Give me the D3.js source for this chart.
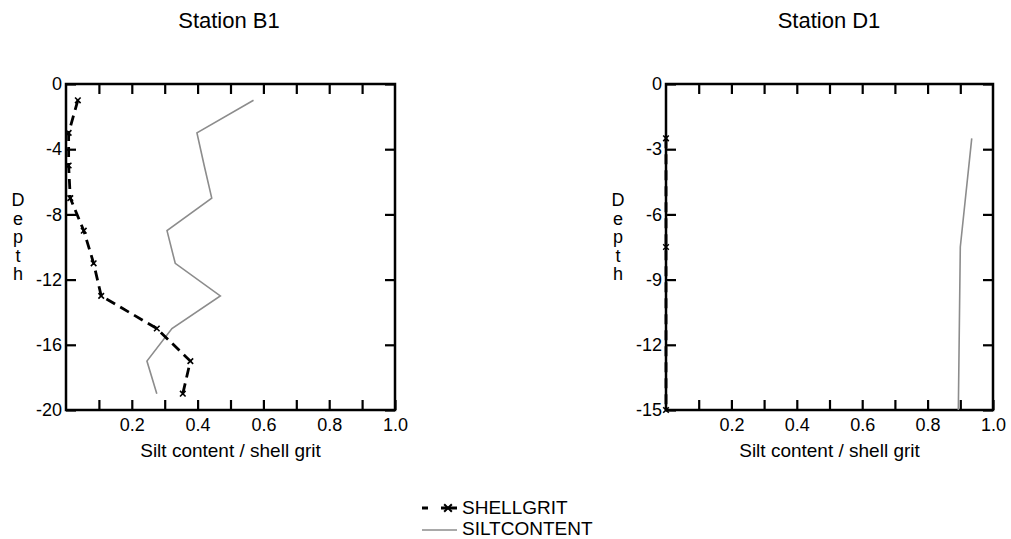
<!DOCTYPE html>
<html lang="en">
<head>
    <meta charset="UTF-8">
    <title>Silt content / shell grit by depth</title>
    <style>
        body { margin: 0; background: #fff; }
        svg { font-family: "Liberation Sans", Arial, sans-serif; }
    </style>
    <script src="https://d3js.org/d3.v7.min.js"></script>
</head>
<body>
    <script>
        // data
        const b1Depth = [-1, -3, -5, -7, -9, -11, -13, -15, -17, -19];
        const b1Shell = [0.036, 0.008, 0.008, 0.013, 0.054, 0.084, 0.107, 0.276, 0.378, 0.355];
        const b1Silt = [0.570, 0.398, 0.420, 0.443, 0.307, 0.332, 0.469, 0.322, 0.246, 0.276];

        const d1Depth = [-2.5, -7.5, -15];
        const d1Shell = [0, 0, 0];
        const d1Silt = [0.935, 0.900, 0.894];

        const xTicks = [0.1, 0.2, 0.3, 0.4, 0.5, 0.6, 0.7, 0.8, 0.9, 1.0];
        const b1YTicks = [0, -4, -8, -12, -16, -20];
        const d1YTicks = [0, -3, -6, -9, -12, -15];

        const W = 1011, H = 539;
        const TOP = 84, BOTTOM = 410;
        const TICK = 10;

        const svg = d3.select("body").append("svg")
            .attr("width", W)
            .attr("height", H);

        function drawPanel(opts) {
            const x = d3.scaleLinear().domain([0, 1]).range([opts.left, opts.right]);
            const y = d3.scaleLinear().domain([0, opts.minDepth]).range([TOP, BOTTOM]);
            const g = svg.append("g");

            // title
            g.append("text")
                .attr("x", opts.titleX)
                .attr("y", 28)
                .attr("text-anchor", "middle")
                .attr("font-size", "22px")
                .text(opts.title);

            // axes, ticks pointing inward
            const bottom = g.append("g")
                .attr("transform", `translate(0,${BOTTOM})`)
                .call(d3.axisBottom(x).tickValues(xTicks).tickSize(-TICK).tickPadding(8)
                    .tickFormat(d => (Math.round(d * 10) % 2 === 0) ? d.toFixed(1) : ""));
            const top = g.append("g")
                .attr("transform", `translate(0,${TOP})`)
                .call(d3.axisTop(x).tickValues(xTicks.slice(0, -1)).tickSize(-TICK).tickFormat(""));
            const left = g.append("g")
                .attr("transform", `translate(${opts.left},0)`)
                .call(d3.axisLeft(y).tickValues(opts.yTicks).tickSize(-TICK).tickPadding(4)
                    .tickFormat(d => String(d)));
            const right = g.append("g")
                .attr("transform", `translate(${opts.right},0)`)
                .call(d3.axisRight(y).tickValues(opts.yTicks).tickSize(-TICK).tickFormat(""));

            [bottom, top, left, right].forEach(a => {
                a.select(".domain").remove();
                a.selectAll(".tick line").attr("stroke", "#000").attr("stroke-width", 2.2);
                a.selectAll(".tick text").attr("fill", "#000").attr("font-size", "18px")
                    .attr("font-family", "Liberation Sans, Arial, sans-serif");
            });

            // frame
            g.append("rect")
                .attr("x", opts.left)
                .attr("y", TOP)
                .attr("width", opts.right - opts.left)
                .attr("height", BOTTOM - TOP)
                .attr("fill", "none")
                .attr("stroke", "#000")
                .attr("stroke-width", 2.5);

            // axis labels
            g.append("text")
                .attr("x", x(0.5))
                .attr("y", 457)
                .attr("text-anchor", "middle")
                .attr("font-size", "19px")
                .text("Silt content / shell grit");

            const depthLetters = "Depth".split("");
            g.append("g").selectAll("text")
                .data(depthLetters)
                .enter()
                .append("text")
                .attr("x", opts.left - 48)
                .attr("y", (d, i) => 206 + i * 18.6)
                .attr("text-anchor", "middle")
                .attr("font-size", "18px")
                .text(d => d);

            const line = d3.line().x(d => x(d[0])).y(d => y(d[1]));

            // silt content
            g.append("path")
                .datum(opts.silt.map((v, i) => [v, opts.depth[i]]))
                .attr("d", line)
                .attr("fill", "none")
                .attr("stroke", "#8c8c8c")
                .attr("stroke-width", 1.6);

            // shell grit
            const shellPts = opts.shell.map((v, i) => [v, opts.depth[i]]);
            g.append("path")
                .datum(shellPts)
                .attr("d", line)
                .attr("fill", "none")
                .attr("stroke", "#000")
                .attr("stroke-width", 2.8)
                .attr("stroke-dasharray", "10,6");

            g.selectAll(".mk")
                .data(shellPts)
                .enter()
                .append("path")
                .attr("transform", d => `translate(${x(d[0])},${y(d[1])})`)
                .attr("d", d3.symbol(d3.symbolTimes, 22)())
                .attr("fill", "none")
                .attr("stroke", "#000")
                .attr("stroke-width", 1.6);
        }

        drawPanel({
            title: "Station B1", titleX: 229,
            left: 66, right: 395, minDepth: -20, yTicks: b1YTicks,
            depth: b1Depth, shell: b1Shell, silt: b1Silt
        });
        drawPanel({
            title: "Station D1", titleX: 829,
            left: 666, right: 993, minDepth: -15, yTicks: d1YTicks,
            depth: d1Depth, shell: d1Shell, silt: d1Silt
        });

        // legend
        const legend = svg.append("g");
        legend.append("line")
            .attr("x1", 422).attr("x2", 457)
            .attr("y1", 508).attr("y2", 508)
            .attr("stroke", "#000").attr("stroke-width", 2.8)
            .attr("stroke-dasharray", "6,13,16");
        legend.append("path")
            .attr("transform", "translate(448,508)")
            .attr("d", d3.symbol(d3.symbolTimes, 40)())
            .attr("fill", "none").attr("stroke", "#000").attr("stroke-width", 2);
        legend.append("text")
            .attr("x", 462).attr("y", 514)
            .attr("font-size", "19px")
            .text("SHELLGRIT");
        legend.append("line")
            .attr("x1", 422).attr("x2", 457)
            .attr("y1", 530).attr("y2", 530)
            .attr("stroke", "#8c8c8c").attr("stroke-width", 1.6);
        legend.append("text")
            .attr("x", 462).attr("y", 535)
            .attr("font-size", "19px")
            .text("SILTCONTENT");
    </script>
</body>
</html>
